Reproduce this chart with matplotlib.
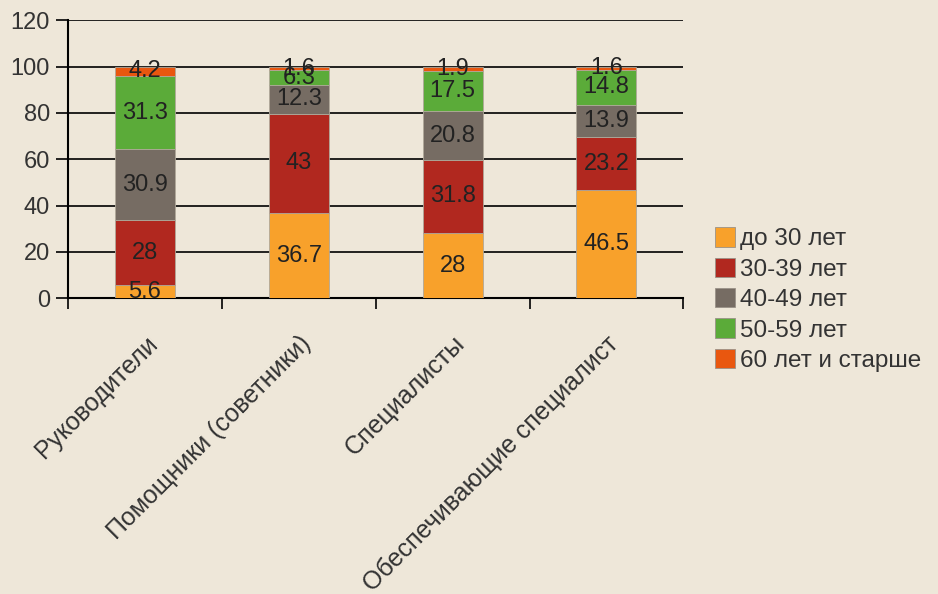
import numpy as np
import matplotlib.pyplot as plt

plt.rcParams['font.family'] = ['Liberation Sans', 'DejaVu Sans']

categories = ['Руководители', 'Помощники (советники)', 'Специалисты', 'Обеспечивающие специалист']
series_names = ['до 30 лет', '30-39 лет', '40-49 лет', '50-59 лет', '60 лет и старше']
under30 = [5.6, 36.7, 28, 46.5]
age30_39 = [28, 43, 31.8, 23.2]
age40_49 = [30.9, 12.3, 20.8, 13.9]
age50_59 = [31.3, 6.3, 17.5, 14.8]
over60 = [4.2, 1.6, 1.9, 1.6]
colors = ['#f8a12b', '#b1281f', '#766c63', '#5bab39', '#e9570f']

bg = '#eee7d9'
fig = plt.figure(figsize=(9.38, 5.94), dpi=100, facecolor=bg)
ax = fig.add_axes([0.0725, 0.498, 0.656, 0.468])
ax.set_facecolor('none')

x = np.arange(len(categories))
bottom = np.zeros(len(categories))
for vals, name, c in zip([under30, age30_39, age40_49, age50_59, over60], series_names, colors):
    vals = np.array(vals, dtype=float)
    ax.bar(x, vals, 0.39, bottom=bottom, color=c, label=name,
           edgecolor='#b0a89a', linewidth=0.6, zorder=3)
    for xi, v, b in zip(x, vals, bottom):
        ax.text(xi, b + v / 2, '{:g}'.format(v), ha='center', va='center',
                fontsize=17, color='#222222', zorder=4)
    bottom += vals

ax.set_xlim(-0.5, len(categories) - 0.5)
ax.set_ylim(0, 120)
ax.set_yticks(range(0, 121, 20))
ax.yaxis.grid(True, color='black', linewidth=1.2, zorder=1)
ax.set_axisbelow(True)
for s in ['top', 'right']:
    ax.spines[s].set_visible(False)
ax.spines['left'].set_linewidth(1.5)
ax.spines['bottom'].set_linewidth(1.5)
ax.tick_params(axis='y', length=9, width=1.2, labelsize=17, labelcolor='#333333', pad=4)
ax.set_xticks(np.arange(-0.5, len(categories), 1.0))
ax.set_xticklabels([])
ax.tick_params(axis='x', length=8, width=1.2, direction='out')
ax.set_xticks(x, minor=True)
ax.set_xticklabels(categories, minor=True, rotation=45, ha='right',
                   rotation_mode='anchor', fontsize=18, color='#333333')
ax.tick_params(axis='x', which='minor', length=0, pad=24)

leg = ax.legend(loc='upper left', bbox_to_anchor=(1.035, 0.29), frameon=False,
                fontsize=17.5, handlelength=0.85, handleheight=0.85, handletextpad=0.2,
                labelspacing=0.3, borderaxespad=0, labelcolor='#333333')
for h in leg.legend_handles:
    h.set_edgecolor('#9a9288')

fig.savefig('out.png', dpi=100, facecolor=bg)
